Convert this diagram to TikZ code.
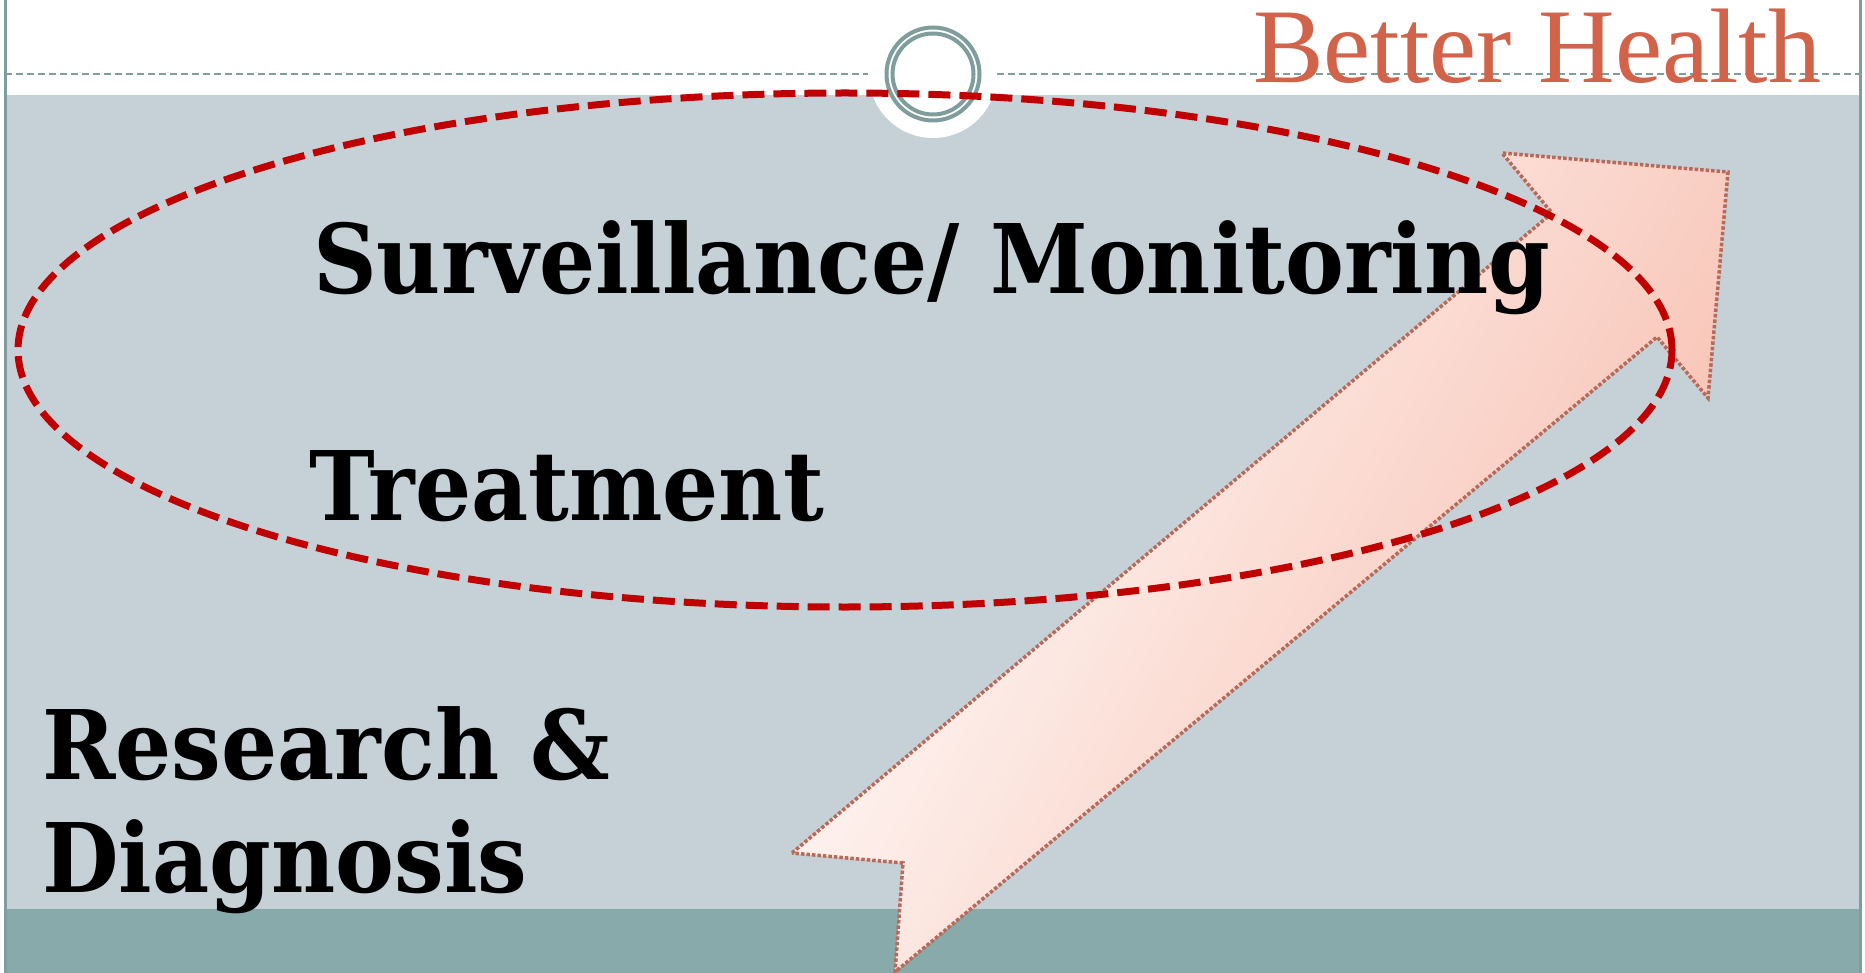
\documentclass[tikz,border=0pt]{standalone}
\usepackage{fontspec}
\setmainfont{DejaVu Serif}
\newfontfamily\topicfont[FakeStretch=0.92]{DejaVu Serif}
\newfontfamily\headfont{Liberation Serif}

\definecolor{panelgray}{RGB}{197,209,215}
\definecolor{bandteal}{RGB}{136,170,170}
\definecolor{rulegray}{RGB}{127,157,157}
\definecolor{loopred}{RGB}{192,0,0}
\definecolor{healthred}{RGB}{209,99,74}
\definecolor{arrowedge}{RGB}{185,105,88}
\definecolor{arrowpink}{RGB}{247,188,172}

\begin{document}
\begin{tikzpicture}[x=1pt, y=-1pt]
        \tikzstyle{rule line}=[draw=rulegray, line width=2.5pt, dash pattern=on 7pt off 4pt]
        \tikzstyle{ring}=[draw=rulegray, line width=4pt]
        \tikzstyle{topic}=[font=\topicfont\bfseries\fontsize{96}{110}\selectfont, anchor=base west, inner sep=0pt]
        \tikzstyle{focus ring}=[draw=loopred, line width=7pt, dash pattern=on 22pt off 9pt]
        \tikzstyle{trend arrow}=[draw=arrowedge, line width=3.5pt, dash pattern=on 3.5pt off 2pt,
            left color=white, right color=arrowpink, shading angle=60]

        \useasboundingbox (0,0) rectangle (1865,973);

        % Draw the panels
        \fill[white] (0,0) rectangle (1865,973);
        \fill[panelgray] (5,95) rectangle (1860,909);
        \fill[bandteal] (5,909) rectangle (1860,973);
        \draw[rulegray, line width=3pt] (5,0) -- (5,973);
        \draw[rulegray, line width=3pt] (1860,0) -- (1860,973);

        % Draw the title rule and the rings
        \draw[rule line] (5,74) -- (868,74);
        \draw[rule line] (997,74) -- (1860,74);
        \fill[white] (933,74) circle (64pt);
        \draw[ring] (933,74) circle (46.5pt);
        \draw[ring] (933,74) circle (40.5pt);

        \node[font=\headfont\fontsize{106}{110}\selectfont, text=healthred,
            anchor=base west, inner sep=0pt] (health) at (1253,83) {Better Health};

        % Draw the trend arrow
        \path[trend arrow] (792,853) -- (1552,213) -- (1502,153) -- (1728,172)
            -- (1708,398) -- (1657,337) -- (895,972) -- (903,863) -- cycle;

        % Draw the topics
        \node[topic] (surv) at (313,294) {Surveillance/ Monitoring};
        \node[topic] (treat) at (309,520) {Treatment};
        \node[topic] (research) at (42,779) {Research \&};
        \node[topic] (diag) at (42,892) {Diagnosis};

        % Circle the first two topics
        \draw[focus ring] (845,350) ellipse [x radius=827pt, y radius=257pt];
\end{tikzpicture}
\end{document}
